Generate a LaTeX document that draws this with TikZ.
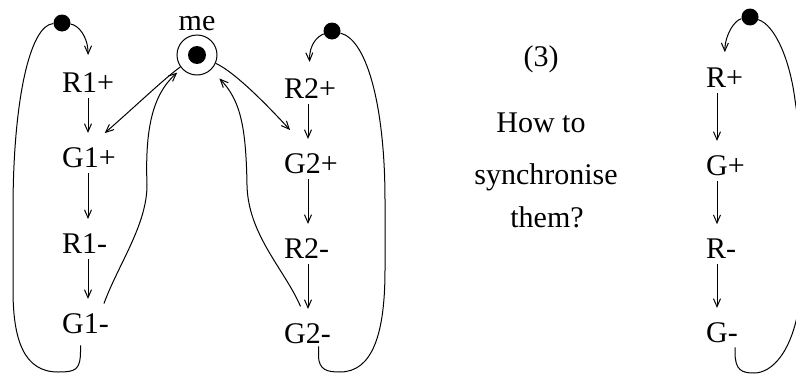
\documentclass[tikz,border=0pt]{standalone}
\usepackage{fontspec}
\setmainfont{Liberation Serif}
\usetikzlibrary{arrows.meta}
\definecolor{inkcol}{HTML}{000000}

\begin{document}
\begin{tikzpicture}[x=1pt,y=-1pt,
	lbl/.style={anchor=base west,inner sep=0pt,font=\fontsize{30}{36}\selectfont,text=inkcol},
	flow/.style={draw=inkcol,line width=1pt,-{Straight Barb[length=8pt,width=7pt]}},
	cycleline/.style={draw=inkcol,line width=1pt},
	tok/.style={circle,fill=inkcol,inner sep=0pt,minimum size=17pt}]
\useasboundingbox (0,0) rectangle (796,375);
% tokens
\node[tok] (dotL) at (62,23) {};
\node[tok] (dotM) at (332,31) {};
\node[tok] (dotR) at (750,17) {};
\node[circle,draw=inkcol,line width=1pt,minimum size=40pt,inner sep=0pt] (me) at (197,55) {};
\fill[inkcol] (me.center) circle (9);
\node[lbl,anchor=base] (melbl) at (197,30) {me};
% the three cycles
\foreach \nm/\txt/\y in {r1p/R1+/92, g1p/G1+/167, r1m/R1-/253, g1m/G1-/333}{
	\node[lbl] (\nm) at (62,\y) {\txt};
	}
\foreach \nm/\txt/\y in {r2p/R2+/98, g2p/G2+/173, r2m/R2-/258, g2m/G2-/343}{
	\node[lbl] (\nm) at (284,\y) {\txt};
	}
\foreach \nm/\txt/\y in {rp/R+/87, gp/G+/175, rm/R-/258, gm/G-/342}{
	\node[lbl] (\nm) at (706,\y) {\txt};
	}
\coordinate (colL) at (88,0);
\coordinate (colM) at (308,0);
\coordinate (colR) at (717,0);
\foreach \a/\b/\c in {r1p/g1p/colL, g1p/r1m/colL, r1m/g1m/colL,
	r2p/g2p/colM, g2p/r2m/colM, r2m/g2m/colM,
	rp/gp/colR, gp/rm/colR, rm/gm/colR}{
	\draw[flow,shorten <=6pt,shorten >=14pt] (\a.south -| \c) -- (\b.north -| \c);
	}
% from the tokens
\draw[flow,shorten >=17pt] (dotL) .. controls (78,25) and (88,36) .. (r1p.north);
\draw[flow,shorten >=16pt] (dotM) .. controls (318,36) and (309,44) .. (r2p.north);
\draw[flow,shorten >=15pt] (dotR) .. controls (735,20) and (725,34) .. (rp.north);
% back to the tokens
\draw[cycleline,shorten <=12pt] ([xshift=-5pt]g1m.south) -- ++(0,17)
	.. controls +(0,20) and (75,372) .. (58,372)
	.. controls (24,372) and (13,340) .. (13,290) -- (13,210)
	.. controls (13,100) and (30,25) .. (dotL);
\draw[cycleline,shorten <=3pt] ([xshift=11pt]g2m.south) -- ++(0,12)
	.. controls +(0,15) and (328,372) .. (340,372)
	.. controls (372,372) and (385,335) .. (385,270) -- (385,200)
	.. controls (385,110) and (368,40) .. (dotM);
\draw[cycleline,shorten <=5pt] ([xshift=13pt]gm.south) -- ++(0,10)
	.. controls +(0,18) and (742,373) .. (754,373)
	.. controls (772,373) and (793,352) .. (800,300)
	.. controls (805,200) and (800,130) .. (795,100)
	.. controls (790,60) and (775,25) .. (dotR);
% the shared place
\draw[flow,shorten >=21pt] (me) .. controls (165,78) and (139,103) .. (g1p.north);
\draw[flow,shorten >=31pt] (me) .. controls (235,72) and (269,107) .. (g2p.north);
\draw[flow,shorten <=10pt,shorten >=6pt] ([xshift=15pt]g1m.north)
	.. controls (118,265) and (147,225) .. (147,185)
	.. controls (145,130) and (152,95) .. (me);
\draw[flow,shorten <=18pt,shorten >=12pt] (g2m.north)
	.. controls (285,270) and (248,235) .. (247,185)
	.. controls (246,125) and (240,100) .. (me);
% question
\node[lbl,anchor=center] (num) at (541,59) {(3)};
\node[lbl,anchor=center] (ask1) at (541,123) {How to};
\node[lbl,anchor=center] (ask2) at (546,177) {synchronise};
\node[lbl,anchor=center] (ask3) at (547,217) {them?};
\end{tikzpicture}
\end{document}
